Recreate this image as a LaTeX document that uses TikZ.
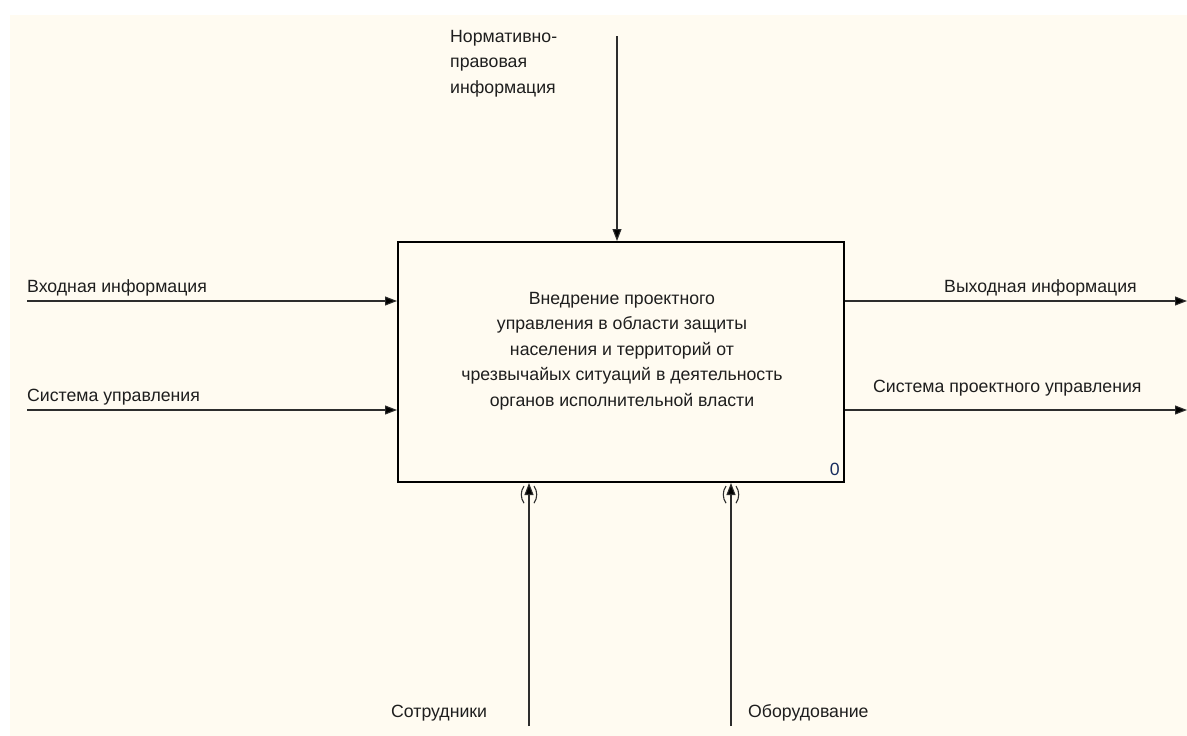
\documentclass[tikz,border=0pt]{standalone}
\usepackage{fontspec}
\setmainfont{Liberation Sans}
\usepackage{tikz}
\usetikzlibrary{arrows.meta, positioning, calc}
\definecolor{idefcream}{RGB}{255, 251, 241}
\definecolor{idefline} {RGB}{ 45,  45,  45}
\definecolor{ideftext} {RGB}{ 30,  30,  30}
\definecolor{idefnum}  {RGB}{ 25,  45,  95}

\begin{document}
\begin{tikzpicture}[x=1pt, y=-1pt,
	lbl/.style={font=\fontsize{17.7}{25.5}\selectfont, text=ideftext, inner sep=0pt},
	flow/.style={draw=idefline, line width=1.1pt, -{Triangle[length=12pt, width=9pt, fill=black]}},
	funcbox/.style={draw=black, line width=2pt, fill=idefcream, minimum width=446pt,
		minimum height=240pt, inner sep=0pt}
	]
	\useasboundingbox (0,0) rectangle (1187,736);
	\fill[white] (0,0) rectangle (1187,736);
	\fill[idefcream] (10,15) rectangle (1187,736);

	% function block
	\node[funcbox] (func) at (621,362) {};
	\node[lbl, align=center] (functxt) at (622,351)
		{Внедрение проектного\\управления в области защиты\\населения и территорий от\\чрезвычайых ситуаций в деятельность\\органов исполнительной власти};
	\node[lbl, text=idefnum, anchor=south east] (num) at ($(func.south east)+(-5,-7)$) {0};

	% inputs and outputs
	\coordinate (inA)  at (27,301);
	\coordinate (inB)  at (27,410);
	\coordinate (outA) at (1187,301);
	\coordinate (outB) at (1187,410);
	\draw[flow] (inA) -- (inA -| func.west);
	\draw[flow] (inB) -- (inB -| func.west);
	\draw[flow] (outA -| func.east) -- (outA);
	\draw[flow] (outB -| func.east) -- (outB);
	\node[lbl, anchor=base west] (inAtxt) at (27,292) {Входная информация};
	\node[lbl, anchor=base west] (inBtxt) at (27,401) {Система управления};
	\node[lbl, anchor=base west] (outAtxt) at (944,292) {Выходная информация};
	\node[lbl, anchor=base west] (outBtxt) at (873,392) {Система проектного управления};

	% control
	\coordinate (ctrl) at (617,36);
	\draw[flow] (ctrl) -- (ctrl |- func.north);
	\node[lbl, anchor=north west, align=left] (ctrltxt) at (450,30)
		{Нормативно-\\правовая\\информация};

	% mechanisms
	\foreach \nm/\x/\txt/\tx in {mechA/529/Сотрудники/391, mechB/731/Оборудование/748}{
		\coordinate (\nm) at (\x,726);
		\draw[flow] (\nm) -- (\nm |- func.south);
		\draw[idefline, line width=1.1pt] ($(\nm |- func.south)+(-5,3)$) arc[start angle=145, end angle=215, radius=15pt];
		\draw[idefline, line width=1.1pt] ($(\nm |- func.south)+(5,3)$) arc[start angle=35, end angle=-35, radius=15pt];
		\node[lbl, anchor=base west] (\nm txt) at (\tx,717) {\txt};
	}
\end{tikzpicture}
\end{document}
